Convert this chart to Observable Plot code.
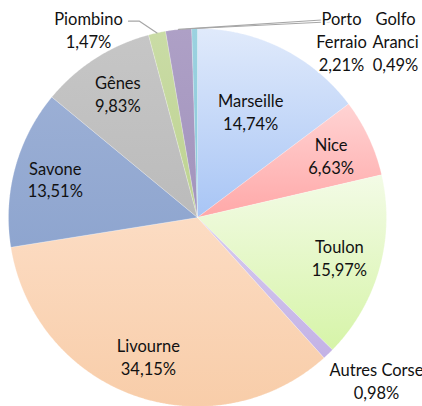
<!DOCTYPE html>
<html>
<head>
<meta charset="utf-8">
<script src="https://cdn.jsdelivr.net/npm/d3@7"></script>
<script src="https://cdn.jsdelivr.net/npm/@observablehq/plot@0.6"></script>
<style>
  html, body { margin: 0; padding: 0; background: #fff; }
  #chart { width: 422px; height: 406px; }
</style>
</head>
<body>
<div id="chart"></div>
<script>
// ---- Data ----
const ports = ["Marseille", "Nice", "Toulon", "Autres Corse", "Livourne", "Savone", "Gênes", "Piombino", "Porto Ferraio", "Golfo Aranci"];
const shares = [14.74, 6.63, 15.97, 0.98, 34.15, 13.51, 9.83, 1.47, 2.21, 0.49];
const labelNames = ["Marseille", "Nice", "Toulon", "Autres Corse", "Livourne", "Savone", "Gênes", "Piombino", "Porto\nFerraio", "Golfo\nAranci"];
const colorsTop = ["#e0eafb", "#ffd3d3", "#f3fbe6", "#d6cbef", "#fcdcc3", "#9bafd5", "#c6c6c6", "#cadca6", "#aea0c6", "#9bd2e0"];
const colorsBottom = ["#a8c5f5", "#ffa8a8", "#d6f4a8", "#c3b2e5", "#f8cda9", "#8ea5cf", "#bbbbbb", "#bdd290", "#a294bd", "#8bc9da"];

// ---- Layout ----
const W = 422, H = 406;
const cx = 197, cy = 217, R = 189;
const fmt = v => d3.format(".2f")(v).replace(".", ",") + "%";
const total = d3.sum(shares);

// slices (angle clockwise from 12 o'clock)
let acc = 0;
const slices = ports.map((p, i) => {
  const a0 = acc / total * 2 * Math.PI;
  acc += shares[i];
  const a1 = acc / total * 2 * Math.PI;
  return {port: p, value: shares[i], a0, a1, mid: (a0 + a1) / 2, i};
});

const polyPts = [];
for (const s of slices) {
  polyPts.push({port: s.port, x: 0, y: 0});
  const n = Math.max(2, Math.ceil((s.a1 - s.a0) / 0.005));
  for (let k = 0; k <= n; k++) {
    const a = s.a0 + (s.a1 - s.a0) * k / n;
    polyPts.push({port: s.port, x: Math.sin(a), y: Math.cos(a)});
  }
  polyPts.push({port: s.port, x: 0, y: 0});
}

// label placement
const px = (x) => (x - cx) / R, py = (y) => (cy - y) / R;
const insideRadius = {"Marseille": 0.63};
const outsidePos = {
  "Piombino": [88, 29],
  "Porto Ferraio": [341, 40],
  "Golfo Aranci": [395, 40],
  "Autres Corse": [376, 380]
};
const labels = slices.map(s => {
  const text = labelNames[s.i] + "\n" + fmt(s.value);
  if (outsidePos[s.port]) {
    const [X, Y] = outsidePos[s.port];
    return {port: s.port, text, x: px(X), y: py(Y), outside: true};
  }
  const r = insideRadius[s.port] ?? 0.78;
  return {port: s.port, text, x: r * Math.sin(s.mid), y: r * Math.cos(s.mid), outside: false};
});

// leader lines
const edge = port => { const s = slices.find(d => d.port === port); return {x: Math.sin(s.mid), y: Math.cos(s.mid)}; };
const leaders = [];
function addLeader(port, pts) {
  for (const [X, Y] of pts) leaders.push({port, x: px(X), y: py(Y)});
  const e = edge(port);
  leaders.push({port, x: e.x, y: e.y});
}
addLeader("Piombino", [[128, 20.7], [139, 20.7]]);
addLeader("Porto Ferraio", [[321, 19.5]]);
addLeader("Golfo Aranci", [[355, 20.5], [346, 20.5]]);

// gradient defs
const gradientDefs = () => {
  const ns = "http://www.w3.org/2000/svg";
  const defs = document.createElementNS(ns, "defs");
  ports.forEach((p, i) => {
    const g = document.createElementNS(ns, "linearGradient");
    g.setAttribute("id", "pg" + i);
    g.setAttribute("x1", "0"); g.setAttribute("y1", "0");
    g.setAttribute("x2", "0"); g.setAttribute("y2", "1");
    [[0, colorsTop[i]], [1, colorsBottom[i]]].forEach(([o, c]) => {
      const st = document.createElementNS(ns, "stop");
      st.setAttribute("offset", o);
      st.setAttribute("stop-color", c);
      g.appendChild(st);
    });
    defs.appendChild(g);
  });
  return defs;
};

const chart = Plot.plot({
  width: W, height: H,
  margin: 0,
  x: {domain: [px(0), px(W)], range: [0, W], axis: null},
  y: {domain: [py(H), py(0)], range: [H, 0], axis: null},
  color: {domain: ports, range: ports.map((p, i) => `url(#pg${i})`)},
  style: {fontFamily: "Lato, 'Open Sans', sans-serif", background: "#fff"},
  marks: [
    gradientDefs,
    Plot.line(polyPts, {x: "x", y: "y", z: "port", fill: "port", stroke: "#ffffff", strokeWidth: 0.6, strokeOpacity: 0.35, curve: "linear"}),
    Plot.line(leaders, {x: "x", y: "y", z: "port", stroke: "#a6a6a6", strokeWidth: 1.2}),
    Plot.text(labels.filter(d => d.outside), {x: "x", y: "y", text: "text", fontSize: 16.5, lineHeight: 1.38, fill: "#111", stroke: "#fff", strokeWidth: 4, paintOrder: "stroke"}),
    Plot.text(labels.filter(d => !d.outside), {x: "x", y: "y", text: "text", fontSize: 16.5, lineHeight: 1.38, fill: "#111"})
  ]
});
document.getElementById("chart").appendChild(chart);
</script>
</body>
</html>
